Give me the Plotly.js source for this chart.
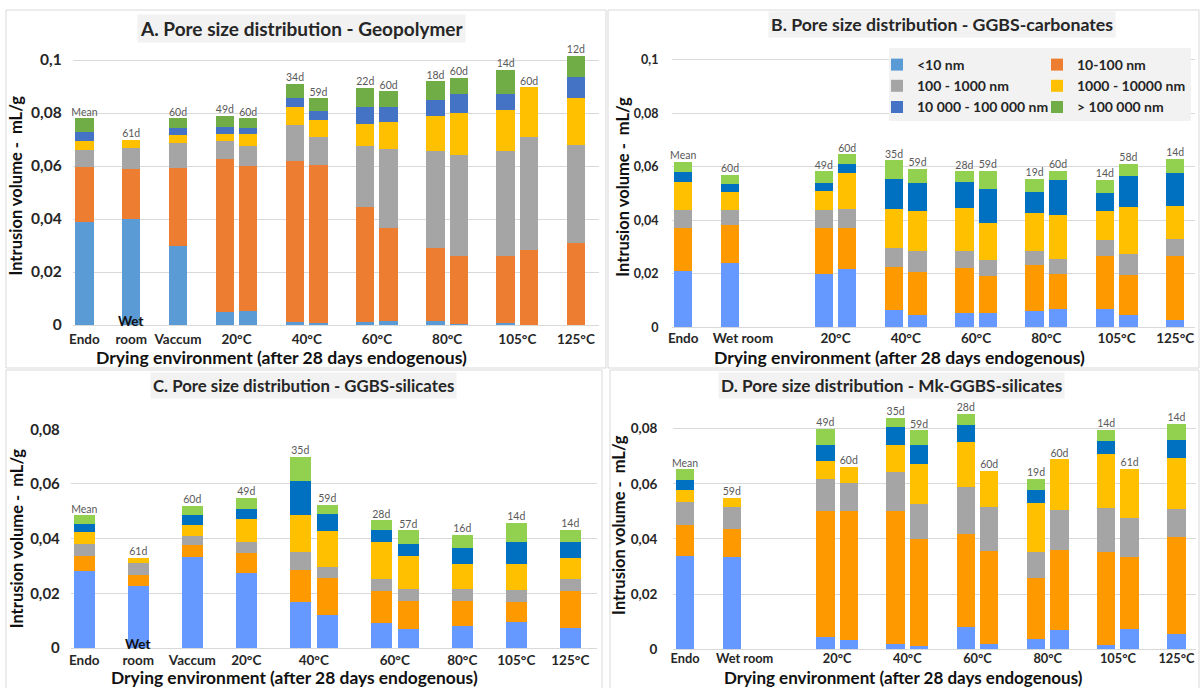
<!DOCTYPE html>
<html><head><meta charset="utf-8">
<script src="https://cdn.plot.ly/plotly-3.0.1.min.js"></script>
<style>html,body{margin:0;padding:0;background:#fff}#chart{width:1201px;height:688px}</style>
</head><body><div id="chart"></div>
<script>
// ---------- shared ----------
const seriesNames = ["<10 nm", "10-100 nm", "100 - 1000 nm", "1000 - 10000 nm", "10 000 - 100 000 nm", "> 100 000 nm"];
const colorsA = ["#5B9BD5", "#ED7D31", "#A5A5A5", "#FFC000", "#4472C4", "#70AD47"];
const colorsBCD = ["#6699FF", "#FF9900", "#A5A5A5", "#FFC000", "#0070C0", "#92D050"];
const groupOrder = ["Endo", "Wet room", "Vaccum", "20°C", "40°C", "60°C", "80°C", "105°C", "125°C"];
const yTitle = "Intrusion volume -  mL/g";
const xTitle = "Drying environment (after 28 days endogenous)";

// ---------- A. Geopolymer ----------
const titleA = "A. Pore size distribution - Geopolymer";
const barsA = ["Endo", "Wet room", "Vaccum", "20°C/49d", "20°C/60d", "40°C/34d", "40°C/59d", "60°C/22d", "60°C/60d", "80°C/18d", "80°C/60d", "105°C/14d", "105°C/60d", "125°C/12d"];
const notesA = ["Mean", "61d", "60d", "49d", "60d", "34d", "59d", "22d", "60d", "18d", "60d", "14d", "60d", "12d"];
const A_lt10 = [0.039, 0.040, 0.030, 0.0048, 0.0053, 0.001, 0.0006, 0.001, 0.0016, 0.0016, 0.0002, 0.0006, 0, 0];
const A_10_100 = [0.0207, 0.019, 0.0294, 0.0578, 0.0547, 0.0609, 0.0598, 0.0434, 0.0349, 0.0273, 0.026, 0.0256, 0.0283, 0.031];
const A_100_1k = [0.0063, 0.0078, 0.0092, 0.007, 0.0077, 0.0136, 0.0106, 0.0233, 0.0298, 0.0369, 0.038, 0.0396, 0.0427, 0.037];
const A_1k_10k = [0.0034, 0.0032, 0.0032, 0.0026, 0.0044, 0.0069, 0.0064, 0.008, 0.0102, 0.0129, 0.0158, 0.0152, 0.0187, 0.0175];
const A_10k_100k = [0.0036, 0, 0.0025, 0.0026, 0.0024, 0.0031, 0.0034, 0.0066, 0.0059, 0.0061, 0.007, 0.0063, 0, 0.0081];
const A_gt100k = [0.005, 0, 0.0037, 0.0041, 0.0035, 0.0055, 0.0047, 0.0071, 0.0058, 0.0072, 0.0063, 0.0089, 0, 0.008];

// ---------- B. GGBS-carbonates ----------
const titleB = "B. Pore size distribution - GGBS-carbonates";
const barsB = ["Endo", "Wet room", "20°C/49d", "20°C/60d", "40°C/35d", "40°C/59d", "60°C/28d", "60°C/59d", "80°C/19d", "80°C/60d", "105°C/14d", "105°C/58d", "125°C/14d"];
const notesB = ["Mean", "60d", "49d", "60d", "35d", "59d", "28d", "59d", "19d", "60d", "14d", "58d", "14d"];
const B_lt10 = [0.0211, 0.0239, 0.0198, 0.0218, 0.0065, 0.0045, 0.0055, 0.0052, 0.006, 0.007, 0.007, 0.0047, 0.0026];
const B_10_100 = [0.0162, 0.0143, 0.0172, 0.0155, 0.0159, 0.0163, 0.0168, 0.014, 0.0173, 0.0128, 0.0197, 0.0148, 0.0241];
const B_100_1k = [0.0066, 0.0056, 0.0069, 0.007, 0.0072, 0.0078, 0.0064, 0.0059, 0.0053, 0.0058, 0.0058, 0.0079, 0.0062];
const B_1k_10k = [0.0105, 0.0067, 0.0072, 0.0133, 0.0148, 0.0149, 0.0159, 0.0139, 0.0143, 0.0163, 0.011, 0.0175, 0.0126];
const B_10k_100k = [0.0036, 0.003, 0.0029, 0.0035, 0.0111, 0.0104, 0.0098, 0.0129, 0.0076, 0.0131, 0.0067, 0.0116, 0.0122];
const B_gt100k = [0.004, 0.0035, 0.0044, 0.0036, 0.007, 0.0053, 0.004, 0.0067, 0.005, 0.0036, 0.005, 0.0046, 0.0054];

// ---------- C. GGBS-silicates ----------
const titleC = "C. Pore size distribution - GGBS-silicates";
const barsC = ["Endo", "Wet room", "Vaccum", "20°C/49d", "40°C/35d", "40°C/59d", "60°C/28d", "60°C/57d", "80°C/16d", "105°C/14d", "125°C/14d"];
const notesC = ["Mean", "61d", "60d", "49d", "35d", "59d", "28d", "57d", "16d", "14d", "14d"];
const C_lt10 = [0.028, 0.0225, 0.0333, 0.0274, 0.017, 0.0121, 0.009, 0.0068, 0.0081, 0.0095, 0.0074];
const C_10_100 = [0.0058, 0.0043, 0.0045, 0.0074, 0.0115, 0.0134, 0.0119, 0.0104, 0.0091, 0.0073, 0.0134];
const C_100_1k = [0.0041, 0.0044, 0.0031, 0.004, 0.0065, 0.0042, 0.0042, 0.0043, 0.0043, 0.0044, 0.0043];
const C_1k_10k = [0.0045, 0.0018, 0.004, 0.0083, 0.0137, 0.0132, 0.0136, 0.0121, 0.0092, 0.0095, 0.0079];
const C_10k_100k = [0.0028, 0, 0.0037, 0.0039, 0.0124, 0.0061, 0.0046, 0.0045, 0.0057, 0.0079, 0.0058];
const C_gt100k = [0.0034, 0, 0.0034, 0.0039, 0.0089, 0.0034, 0.0034, 0.0049, 0.005, 0.0072, 0.0044];

// ---------- D. Mk-GGBS-silicates ----------
const titleD = "D. Pore size distribution - Mk-GGBS-silicates";
const barsD = ["Endo", "Wet room", "20°C/49d", "20°C/60d", "40°C/35d", "40°C/59d", "60°C/28d", "60°C/60d", "80°C/19d", "80°C/60d", "105°C/14d", "105°C/61d", "125°C/14d"];
const notesD = ["Mean", "59d", "49d", "60d", "35d", "59d", "28d", "60d", "19d", "60d", "14d", "61d", "14d"];
const D_lt10 = [0.0339, 0.0334, 0.0045, 0.0034, 0.0019, 0.0012, 0.0081, 0.0019, 0.0036, 0.0069, 0.0016, 0.0072, 0.0057];
const D_10_100 = [0.0112, 0.0101, 0.0456, 0.0468, 0.0482, 0.0387, 0.0338, 0.0336, 0.0222, 0.0291, 0.0338, 0.0262, 0.0351];
const D_100_1k = [0.0082, 0.0079, 0.0116, 0.0102, 0.014, 0.0126, 0.0171, 0.0162, 0.0094, 0.0146, 0.0157, 0.0141, 0.01];
const D_1k_10k = [0.0044, 0.0034, 0.0067, 0.0057, 0.0099, 0.0145, 0.0161, 0.0129, 0.0179, 0.0182, 0.0197, 0.0179, 0.0184];
const D_10k_100k = [0.0035, 0, 0.0056, 0, 0.0065, 0.0069, 0.0061, 0, 0.0046, 0, 0.0046, 0, 0.0067];
const D_gt100k = [0.004, 0, 0.006, 0, 0.0034, 0.0055, 0.0041, 0, 0.0042, 0, 0.0041, 0, 0.0058];

// ---------- build ----------
const W = 1201, H = 688;
const fx = v => v / W, fy = v => 1 - v / H;
const FONT = "Lato, 'Open Sans', sans-serif";
const DARK = "#262626";

const panels = [
  {id: "", bars: barsA, notes: notesA, series: [A_lt10, A_10_100, A_100_1k, A_1k_10k, A_10k_100k, A_gt100k], colors: colorsA,
   title: titleA, titleSize: 19, wetSplit: true, legend: true, wetShift: 0,
   xdom: [72.7, 599.3], ydom: [46.75, 325], xr: [-0.5, 22], yr: [0, 0.105], xtick: 13.5, ytick: 15.5,
   xStand: 4, yStand: 10, yTitleStand: 4, titlePos: [301, 29], xTitlePos: [281, 357], xTitleSize: 17.6, frame: [6, 10, 606, 368]},
  {id: "2", bars: barsB, notes: notesB, series: [B_lt10, B_10_100, B_100_1k, B_1k_10k, B_10k_100k, B_gt100k], colors: colorsBCD,
   title: titleB, titleSize: 17.7, wetSplit: false, legend: false, wetShift: 0.55,
   xdom: [671.5, 1195.1], ydom: [46.6, 327.3], xr: [-0.5, 21.85], yr: [0, 0.105], xtick: 13.5, ytick: 12.5,
   xStand: 1, yStand: 12, yTitleStand: 0, titlePos: [942, 25], xTitlePos: [899, 357], xTitleSize: 17.6, frame: [608, 10, 1199, 368]},
  {id: "3", bars: barsC, notes: notesC, series: [C_lt10, C_10_100, C_100_1k, C_1k_10k, C_10k_100k, C_gt100k], colors: colorsBCD,
   title: titleC, titleSize: 16.8, wetSplit: true, legend: false, wetShift: 0,
   xdom: [70.8, 597.3], ydom: [429.3, 648], xr: [-0.5, 19], yr: [0, 0.08], xtick: 13.5, ytick: 15,
   xStand: 2, yStand: 10, yTitleStand: 2, titlePos: [303, 385], xTitlePos: [294, 677], xTitleSize: 17.4, frame: [6, 370, 602, 690]},
  {id: "4", bars: barsD, notes: notesD, series: [D_lt10, D_10_100, D_100_1k, D_1k_10k, D_10k_100k, D_gt100k], colors: colorsBCD,
   title: titleD, titleSize: 17.2, wetSplit: false, legend: false, wetShift: 0.55,
   xdom: [673.3, 1196.3], ydom: [401, 649.3], xr: [-0.5, 21.85], yr: [0, 0.09], xtick: 12.8, ytick: 13.5,
   xStand: 0, yStand: 15, yTitleStand: 0, titlePos: [891, 385], xTitlePos: [903, 677.5], xTitleSize: 17, frame: [610, 370, 1199, 690]}
];

const groupOf = b => b.split("/")[0];

const traces = [];
const layout = {
  width: W, height: H, margin: {l: 0, r: 0, t: 0, b: 0},
  paper_bgcolor: "#ffffff", plot_bgcolor: "#ffffff",
  barmode: "stack", bargap: 0.21, separators: ", ",
  font: {family: FONT, color: DARK},
  showlegend: true,
  legend: {x: fx(877), y: fy(49), xanchor: "left", yanchor: "top", bgcolor: "rgba(0,0,0,0)",
           font: {size: 14, family: FONT, color: DARK, weight: "bold"}, tracegroupgap: 4, traceorder: "normal"},
  legend2: {x: fx(1037), y: fy(49), xanchor: "left", yanchor: "top", bgcolor: "rgba(0,0,0,0)",
            font: {size: 14, family: FONT, color: DARK, weight: "bold"}, tracegroupgap: 4, traceorder: "normal"},
  annotations: [], shapes: []
};

panels.forEach(p => {
  const xa = "x" + p.id, ya = "y" + p.id;
  // category slots: each group gets its bars (or one empty slot), groups separated by a gap slot
  const cats = [];
  const ticks = [], tickText = [];
  groupOrder.forEach((g, gi) => {
    if (gi > 0) cats.push("_gap" + gi);
    const members = p.bars.filter(b => groupOf(b) === g);
    if (members.length === 0) { cats.push("_empty" + gi); return; }
    const start = cats.length;
    members.forEach(m => cats.push(m));
    let pos = (start + cats.length - 1) / 2;
    if (g === "Wet room") pos += p.wetShift;
    ticks.push(pos);
    tickText.push(p.wetSplit && g === "Wet room" ? "room" : g);
  });

  p.series.forEach((vals, s) => {
    traces.push({
      type: "bar", x: p.bars, y: vals, xaxis: xa, yaxis: ya,
      name: seriesNames[s], legendgroup: seriesNames[s],
      showlegend: p.legend, legend: s % 2 === 0 ? "legend" : "legend2",
      marker: {color: p.colors[s], line: {width: 0}},
      hovertemplate: "%{x}<br>" + seriesNames[s] + ": %{y}<extra></extra>"
    });
  });
  const totals = p.bars.map((_, i) => p.series.reduce((acc, arr) => acc + arr[i], 0));
  traces.push({
    type: "scatter", mode: "text", x: p.bars, y: totals, text: p.notes, textposition: "top center",
    textfont: {size: 10.5, color: "#595959", family: FONT}, cliponaxis: false,
    xaxis: xa, yaxis: ya, showlegend: false, hoverinfo: "skip"
  });

  layout["xaxis" + p.id] = {
    domain: [fx(p.xdom[0]), fx(p.xdom[1])], anchor: ya, type: "category",
    categoryorder: "array", categoryarray: cats, range: p.xr,
    tickmode: "array", tickvals: ticks, ticktext: tickText, tickangle: 0, ticklabelstandoff: p.xStand,
    showgrid: false, zeroline: false, showline: false, ticks: "",
    tickfont: {size: p.xtick, family: FONT, color: DARK, weight: "bold"}, fixedrange: true
  };
  layout["yaxis" + p.id] = {
    domain: [fy(p.ydom[1]), fy(p.ydom[0])], anchor: xa, range: p.yr,
    tick0: 0, dtick: 0.02, showgrid: true, gridcolor: "#D9D9D9", gridwidth: 1,
    zeroline: true, zerolinecolor: "#D9D9D9", zerolinewidth: 1, showline: false, ticks: "",
    ticklabelstandoff: p.yStand,
    tickfont: {size: p.ytick, family: FONT, color: DARK, weight: "bold"},
    title: {text: yTitle, font: {size: 16.5, family: FONT, color: "#111", weight: "bold"}, standoff: p.yTitleStand},
    fixedrange: true
  };

  // panel title with grey box
  layout.annotations.push({
    xref: "paper", yref: "paper", x: fx(p.titlePos[0]), y: fy(p.titlePos[1]), xanchor: "center", yanchor: "middle",
    text: p.title, showarrow: false, bgcolor: "#F2F2F2", borderpad: 2,
    font: {size: p.titleSize, family: FONT, color: DARK, weight: "bold"}
  });
  // x axis title
  layout.annotations.push({
    xref: "paper", yref: "paper", x: fx(p.xTitlePos[0]), y: fy(p.xTitlePos[1]), xanchor: "center", yanchor: "middle",
    text: xTitle, showarrow: false, font: {size: p.xTitleSize, family: FONT, color: "#111", weight: "bold"}
  });
  if (p.wetSplit) {
    layout.annotations.push({
      xref: xa, yref: ya, x: "Wet room", y: 0, yanchor: "bottom", yshift: -6, showarrow: false,
      text: "Wet", font: {size: p.xtick, family: FONT, color: "#111", weight: "bold"}
    });
  }
  // panel frame
  layout.shapes.push({
    type: "rect", xref: "paper", yref: "paper",
    x0: fx(p.frame[0]), x1: fx(p.frame[2]), y0: fy(p.frame[3]), y1: fy(p.frame[1]),
    line: {color: "#D9D9D9", width: 1}, fillcolor: "rgba(0,0,0,0)", layer: "below"
  });
});

// legend background box (legend sits in panel B)
layout.shapes.push({
  type: "rect", xref: "paper", yref: "paper", x0: fx(889), x1: fx(1191), y0: fy(121), y1: fy(48),
  line: {width: 0}, fillcolor: "#F2F2F2", layer: "above"
});

Plotly.newPlot("chart", traces, layout, {displayModeBar: false, staticPlot: true});
</script>
</body></html>
